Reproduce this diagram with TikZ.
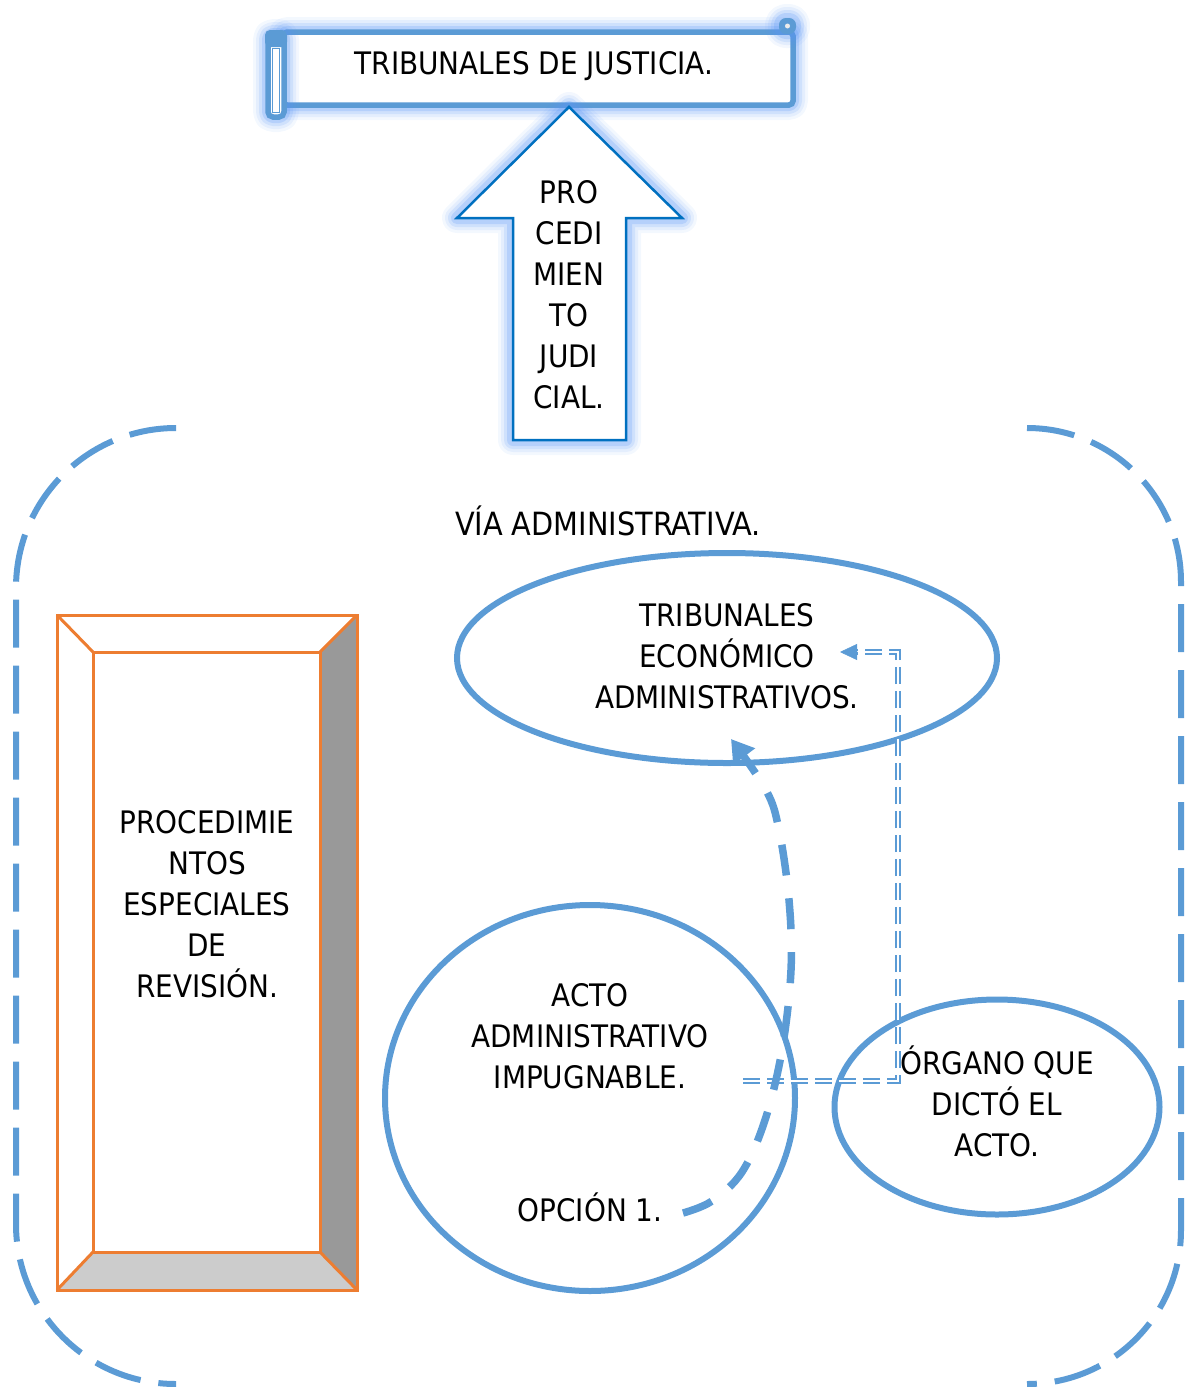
\documentclass[tikz,border=0pt]{standalone}
\usepackage{fontspec}
\setmainfont{DejaVu Sans Condensed}
\usetikzlibrary{shapes.geometric,arrows.meta,calc}
\definecolor{accent}{RGB}{91,155,213}
\definecolor{darkblue}{RGB}{0,112,192}
\definecolor{glowc}{RGB}{90,150,245}
\definecolor{orangeline}{RGB}{237,125,49}
\definecolor{bevdark}{RGB}{153,153,153}
\definecolor{bevlight}{RGB}{204,204,204}
\begin{document}
\begin{tikzpicture}[x=1pt,y=-1pt,
  txt/.style={font=\fontsize{31}{41}\selectfont, align=center, inner sep=0pt},
  glowing/.style={
    preaction={draw=glowc, line width=30pt, opacity=0.07, line join=round},
    preaction={draw=glowc, line width=24pt, opacity=0.10, line join=round},
    preaction={draw=glowc, line width=18pt, opacity=0.15, line join=round},
    preaction={draw=glowc, line width=12pt, opacity=0.22, line join=round}},
  bluering/.style={ellipse, draw=accent, line width=6pt, inner sep=0pt},
  bracket/.style={draw=accent, line width=6pt, dash pattern=on 48pt off 18pt},
  doubleconn/.style={draw=accent, line width=1.7pt, double=white, double distance=2.6pt, dash pattern=on 17pt off 7pt},
  thickdash/.style={draw=accent, line width=7.5pt, dash pattern=on 31pt off 23pt},
  bevel/.style={draw=orangeline, line width=3pt, line join=miter}
]
\useasboundingbox (0,0) rectangle (1184,1387);

% ---------- scroll banner ----------
\draw[glowing, fill=white, draw=accent, line width=5.5pt, rounded corners=4pt]
  (283,32) rectangle (793,105);
\draw[glowing, fill=white, draw=accent, line width=5.5pt, rounded corners=5pt]
  (268,34) rectangle (284,117);
\fill[accent, rounded corners=5pt] (265,30) rectangle (287,47);
\draw[accent, line width=1pt, fill=white] (272,48) rectangle (279,112);
\draw[glowing, fill=accent, draw=accent, line width=2pt, rounded corners=6pt]
  (780,19) rectangle (795,33);
\fill[white!85!gray] (787.5,26) circle (2.5pt);
\node[txt, anchor=base] (tj) at (534,74) {TRIBUNALES DE JUSTICIA.};

% ---------- up arrow ----------
\draw[glowing, fill=white, draw=darkblue, line width=2.5pt, line join=miter]
  (569,107) -- (682,218) -- (626,218) -- (626,440) -- (513,440) -- (513,218) -- (457,218) -- cycle;
\node[txt] (pj) at (569,295) {PRO\\CEDI\\MIEN\\TO\\JUDI\\CIAL.};

% ---------- bracket pair ----------
\draw[bracket, rounded corners=160pt] (175,428) -- (16,428) -- (16,1384) -- (175,1384);
\draw[bracket, rounded corners=154pt] (1027,428) -- (1181,428) -- (1181,1384) -- (1027,1384);
\node[txt, anchor=base, font=\fontsize{32}{41}\selectfont] (via) at (608,535) {VÍA ADMINISTRATIVA.};

% ---------- bevel box ----------
\fill[bevdark] (357,615) -- (357,1290) -- (320,1252) -- (320,652) -- cycle;
\fill[bevlight] (57,1290) -- (357,1290) -- (320,1252) -- (93,1252) -- cycle;
\draw[bevel] (57,615) rectangle (357,1290);
\draw[bevel] (93,652) rectangle (320,1252);
\draw[bevel] (57,615) -- (93,652) (357,615) -- (320,652) (57,1290) -- (93,1252) (357,1290) -- (320,1252);
\node[txt] (proc) at (207,904) {PROCEDIMIE\\NTOS\\ESPECIALES\\DE\\REVISIÓN.};

% ---------- ellipses ----------
\node[bluering, minimum width=540pt, minimum height=210pt] (tea) at (727,658) {};
\node[txt] (teatxt) at (727,656) {TRIBUNALES\\ECONÓMICO\\ADMINISTRATIVOS.};

\node[bluering, minimum width=410pt, minimum height=386pt] (acto) at (590,1098) {};
\node[txt] (actotxt) at (590,1036) {ACTO\\ADMINISTRATIVO\\IMPUGNABLE.};
\node[txt, anchor=base] (opc) at (590,1221) {OPCIÓN 1.};

\node[bluering, minimum width=325pt, minimum height=215pt] (org) at (997,1107) {};
\node[txt] (orgtxt) at (997,1101) {ÓRGANO QUE\\DICTÓ EL\\ACTO.};

% ---------- connectors ----------
\coordinate (d1) at (743,1081);
\coordinate (d2) at (898,652);
\coordinate (d3) at (857,652);
\coordinate (d4) at (840,652);
\draw[doubleconn] (d1) -| (d2) -- (d3);
\draw[accent, line width=0.5pt, -{Triangle[length=17pt,width=16pt]}] (d3) -- (d4);

\coordinate (c0) at (683,1213);
\coordinate (c9) at (731,739);
\draw[thickdash, -{Triangle[length=22pt,width=26pt]}]
  plot[smooth, tension=0.6] coordinates {(c0) (712,1201) (742,1172) (765,1120) (782,1050) (791,970) (789,900) (779,830) (766,790) (c9)};
\end{tikzpicture}
\end{document}
